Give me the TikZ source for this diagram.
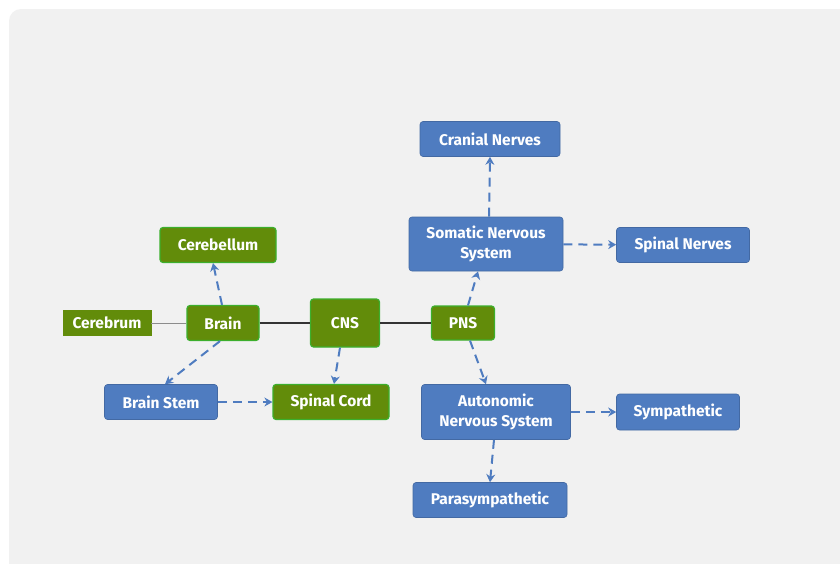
\documentclass[tikz,border=0pt]{standalone}
\usepackage{fontspec}
\setmainfont{Fira Sans}
\usepackage{tikz}
\usetikzlibrary{positioning, arrows.meta}
\tikzstyle{canvas} = [x = 1pt, y = -1pt]
\definecolor{panelGray}{RGB}{241,241,241}
\definecolor{boxBlue}{RGB}{79,124,192}
\definecolor{boxGreen}{RGB}{98,140,10}
\definecolor{edgeGreen}{RGB}{60,175,45}
\definecolor{arrowBlue}{RGB}{79,124,192}
\tikzstyle{boxText} = [font=\bfseries\fontsize{15.5}{20}\selectfont, text=white, align=center, inner sep=0pt]
\tikzstyle{blueBox} = [boxText, fill=boxBlue, draw=boxBlue!85!black, line width=.6pt, rounded corners=3pt]
\tikzstyle{greenBox} = [boxText, fill=boxGreen, draw=edgeGreen, line width=1.2pt, rounded corners=3pt]
\tikzstyle{flatGreenBox} = [boxText, fill=boxGreen, draw=boxGreen, line width=.6pt]
\tikzstyle{dashArrow} = [color=arrowBlue, line width=2pt, dash pattern=on 9pt off 6pt, -{Stealth[length=8pt, width=9pt]}]
\tikzstyle{trunkLine} = [color=black!80, line width=2.2pt]
\tikzstyle{thinLine} = [color=black!45, line width=.8pt]
\newcommand{\blueNode}[5]{\node [blueBox, minimum width=#3, minimum height=#4] (#1) at #2 {#5};}
\newcommand{\greenNode}[5]{\node [greenBox, minimum width=#3, minimum height=#4] (#1) at #2 {#5};}

\begin{document}
\begin{tikzpicture}[canvas]
  \useasboundingbox (0,0) rectangle (840,563);
  \fill [white] (0,0) rectangle (840,563);
  \fill [panelGray, rounded corners=12pt] (9,9) rectangle (860,590);

  % central column
  \greenNode{cns}{(345,323)}{69pt}{48pt}{CNS}
  \greenNode{brain}{(223,323)}{72pt}{35pt}{Brain}
  \greenNode{pns}{(463,323)}{63pt}{34pt}{PNS}
  \node [flatGreenBox, minimum width=88pt, minimum height=25pt] (cerebrum) at (107,323) {Cerebrum};
  \greenNode{cerebellum}{(218,245)}{116pt}{35pt}{Cerebellum}
  \greenNode{spinalCord}{(331,402)}{116pt}{35pt}{Spinal Cord}
  \blueNode{brainStem}{(161,402)}{113pt}{35pt}{Brain Stem}

  % peripheral side
  \blueNode{somatic}{(486,244)}{154pt}{54pt}{Somatic Nervous\\System}
  \blueNode{cranial}{(490,139)}{140pt}{35pt}{Cranial Nerves}
  \blueNode{spinalNerves}{(683,245)}{133pt}{35pt}{Spinal Nerves}
  \blueNode{autonomic}{(496,412)}{149pt}{55pt}{Autonomic\\Nervous System}
  \blueNode{sympathetic}{(678,412)}{123pt}{36pt}{Sympathetic}
  \blueNode{parasym}{(490,500)}{154pt}{35pt}{Parasympathetic}

  % links
  \draw [thinLine] (cerebrum) -- (brain);
  \draw [trunkLine] (brain) -- (cns);
  \draw [trunkLine] (cns) -- (pns);
  \draw [dashArrow] ([xshift=-1pt]brain.north) -- ([xshift=-5pt]cerebellum.south);
  \draw [dashArrow] ([xshift=-3pt]brain.south) -- ([xshift=4pt]brainStem.north);
  \draw [dashArrow] ([xshift=-5pt]cns.south) -- ([xshift=3pt]spinalCord.north);
  \draw [dashArrow] (brainStem) -- (spinalCord);
  \draw [dashArrow] ([xshift=5pt]pns.north) -- ([xshift=-8pt]somatic.south);
  \draw [dashArrow] ([xshift=3pt]somatic.north) -- (cranial.south);
  \draw [dashArrow] (somatic) -- (spinalNerves);
  \draw [dashArrow] ([xshift=7pt]pns.south) -- ([xshift=-10pt]autonomic.north);
  \draw [dashArrow] (autonomic) -- (sympathetic);
  \draw [dashArrow] ([xshift=-2pt]autonomic.south) -- (parasym.north);
\end{tikzpicture}
\end{document}
